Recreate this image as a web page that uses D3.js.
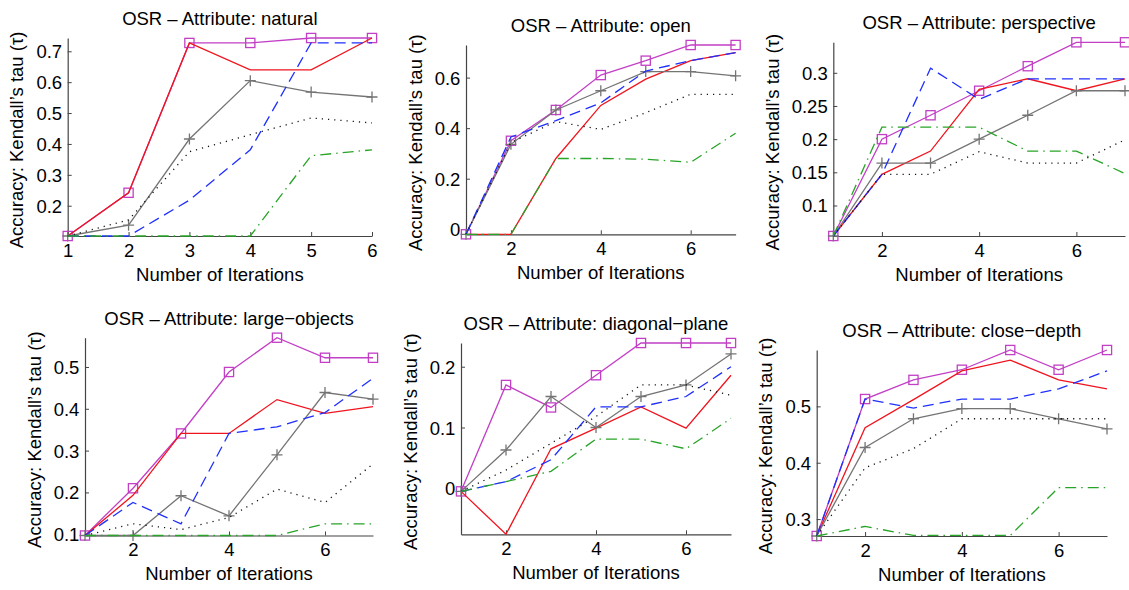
<!DOCTYPE html>
<html><head><meta charset="utf-8">
<script src="https://cdn.jsdelivr.net/npm/d3@7"></script>
<style>
html,body{margin:0;padding:0;background:#fff;}
svg text{font-family:"Liberation Sans",Arial,Helvetica,sans-serif;fill:#000;}
</style></head>
<body><svg id="c" width="1129" height="590"></svg>
<script>
// ---------- DATA ----------
const titles = ["OSR \u2013 Attribute: natural","OSR \u2013 Attribute: open","OSR \u2013 Attribute: perspective",
  "OSR \u2013 Attribute: large\u2212objects","OSR \u2013 Attribute: diagonal\u2212plane","OSR \u2013 Attribute: close\u2212depth"];
const xLabel = "Number of Iterations";
const yLabel = "Accuracy: Kendall\u2019s tau (\u03c4)";
const iters6 = [1,2,3,4,5,6];
const iters7 = [1,2,3,4,5,6,7];
const xTicks1 = [1,2,3,4,5,6];
const xTicksOther = [2,4,6];

// series per panel: magenta(squares), red, blue dashed, gray(+), black dotted, green dash-dot
const natural = {
  magenta:[0.102,0.242,0.727,0.727,0.743,0.743],
  red:    [0.102,0.242,0.727,0.640,0.640,0.743],
  blue:   [0.102,0.102,0.218,0.381,0.727,0.727],
  gray:   [0.102,0.137,0.416,0.605,0.568,0.552],
  dotted: [0.102,0.154,0.375,0.430,0.484,0.468],
  green:  [0.102,0.102,0.102,0.102,0.362,0.381]
};
const open = {
  magenta:[-0.02,0.350,0.472,0.610,0.667,0.729,0.729],
  red:    [-0.02,-0.02,0.280,0.490,0.594,0.667,0.699],
  blue:   [-0.02,0.365,0.430,0.500,0.626,0.667,0.699],
  gray:   [-0.02,0.336,0.472,0.548,0.624,0.624,0.607],
  dotted: [-0.02,0.343,0.426,0.395,0.461,0.534,0.534],
  green:  [-0.02,-0.02,0.280,0.280,0.277,0.265,0.380]
};
const perspective = {
  magenta:[0.054,0.200,0.236,0.273,0.310,0.346,0.346],
  red:    [0.054,0.147,0.182,0.275,0.291,0.273,0.291],
  blue:   [0.054,0.147,0.307,0.260,0.291,0.291,0.291],
  gray:   [0.054,0.164,0.164,0.200,0.236,0.273,0.273],
  dotted: [0.054,0.147,0.147,0.181,0.164,0.164,0.199],
  green:  [0.054,0.218,0.218,0.218,0.182,0.182,0.148]
};
const largeObjects = {
  magenta:[0.097,0.210,0.341,0.488,0.570,0.522,0.522],
  red:    [0.097,0.193,0.341,0.341,0.422,0.389,0.405],
  blue:   [0.097,0.176,0.125,0.341,0.357,0.391,0.473],
  gray:   [0.097,0.097,0.192,0.144,0.290,0.439,0.423],
  dotted: [0.097,0.125,0.111,0.140,0.208,0.176,0.268],
  green:  [0.097,0.097,0.097,0.097,0.097,0.125,0.125]
};
const diagonalPlane = {
  magenta:[-0.005,0.170,0.133,0.186,0.239,0.239,0.239],
  red:    [-0.005,-0.0756,0.065,0.099,0.134,0.099,0.186],
  blue:   [-0.005,0.011,0.047,0.134,0.134,0.151,0.200],
  gray:   [-0.005,0.063,0.151,0.100,0.151,0.170,0.221],
  dotted: [-0.005,0.030,0.074,0.118,0.170,0.170,0.153],
  green:  [-0.005,0.011,0.028,0.081,0.081,0.065,0.115]
};
const closeDepth = {
  magenta:[0.270,0.513,0.547,0.565,0.600,0.565,0.600],
  red:    [0.270,0.462,0.512,0.563,0.582,0.547,0.531],
  blue:   [0.270,0.513,0.497,0.513,0.513,0.531,0.563],
  gray:   [0.270,0.427,0.478,0.496,0.496,0.478,0.460],
  dotted: [0.270,0.391,0.425,0.478,0.478,0.478,0.478],
  green:  [0.270,0.287,0.271,0.271,0.271,0.356,0.356]
};
const yTicks = [
  [0.2,0.3,0.4,0.5,0.6,0.7],
  [0,0.2,0.4,0.6],
  [0.1,0.15,0.2,0.25,0.3],
  [0.1,0.2,0.3,0.4,0.5],
  [0,0.1,0.2],
  [0.3,0.4,0.5]
];

// ---------- LAYOUT / STYLE ----------
const panels = [
  {data:natural,       iters:iters6, xt:xTicks1,     rect:[67.7,372,38,236]},
  {data:open,          iters:iters7, xt:xTicksOther, rect:[466,735.6,45,234.3]},
  {data:perspective,   iters:iters7, xt:xTicksOther, rect:[833.3,1125,42.3,236]},
  {data:largeObjects,  iters:iters7, xt:xTicksOther, rect:[85,373,337.7,535.5]},
  {data:diagonalPlane, iters:iters7, xt:xTicksOther, rect:[461,731,343,534.3]},
  {data:closeDepth,    iters:iters7, xt:xTicksOther, rect:[816.7,1107,350,536]}
];
const styles = {
  magenta:{color:"#c23fc6", dash:null, marker:"square"},
  red:    {color:"#f0141e", dash:null, marker:null},
  gray:   {color:"#747474", dash:null, marker:"plus"},
  blue:   {color:"#1f2fff", dash:"11,6", marker:null},
  dotted: {color:"#111111", dash:"1.2,5", marker:null},
  green:  {color:"#28a428", dash:"11,5,1.5,5", marker:null}
};
const drawOrder = ["magenta","red","gray","blue","dotted","green"];
const FS = 18.5;

const svg = d3.select("#c");

panels.forEach((p,i)=>{
  const [L,R,T,B] = p.rect;
  const all = Object.values(p.data).flat();
  const x = d3.scaleLinear().domain(d3.extent(p.iters)).range([L,R]);
  const y = d3.scaleLinear().domain(d3.extent(all)).range([B,T]);
  const g = svg.append("g");

  // axes (ticks inward)
  const xa = g.append("g").attr("transform",`translate(0,${B})`)
    .call(d3.axisBottom(x).tickValues(p.xt).tickSizeInner(-4).tickSizeOuter(0).tickPadding(8).tickFormat(d3.format("d")));
  const ya = g.append("g").attr("transform",`translate(${L},0)`)
    .call(d3.axisLeft(y).tickValues(yTicks[i]).tickSizeInner(-4).tickSizeOuter(0).tickPadding(9).tickFormat(d=>String(+d.toFixed(3))));
  [xa,ya].forEach(a=>{
    a.select(".domain").attr("stroke","#444").attr("stroke-width",1.2);
    a.selectAll(".tick line").attr("stroke","#444").attr("stroke-width",1);
    a.selectAll("text").attr("font-size",FS).attr("fill","#000").style("font-family",'"Liberation Sans",Arial,sans-serif');
  });
  xa.selectAll(".tick text").attr("dy",null).attr("y",20.7);
  ya.selectAll(".tick text").attr("x",-5.6).attr("dy","0.35em");

  // series
  const line = d3.line().x((d,k)=>x(p.iters[k])).y(d=>y(d));
  drawOrder.forEach(key=>{
    const s = styles[key], vals = p.data[key];
    g.append("path").attr("d",line(vals)).attr("fill","none")
      .attr("stroke",s.color).attr("stroke-width",1.3)
      .attr("stroke-dasharray",s.dash);
    if(s.marker==="square"){
      g.selectAll(null).data(vals).enter().append("rect")
        .attr("x",(d,k)=>x(p.iters[k])-4.6).attr("y",d=>y(d)-4.6)
        .attr("width",9.2).attr("height",9.2)
        .attr("fill","none").attr("stroke",s.color).attr("stroke-width",1.3);
    } else if(s.marker==="plus"){
      g.selectAll(null).data(vals).enter().append("path")
        .attr("d",(d,k)=>{const cx=x(p.iters[k]),cy=y(d);return `M${cx-5.5},${cy}H${cx+5.5}M${cx},${cy-5.5}V${cy+5.5}`;})
        .attr("stroke",s.color).attr("stroke-width",1.3);
    }
  });

  // title & labels
  const cx = (L+R)/2;
  g.append("text").attr("x",cx).attr("y",T-13).attr("text-anchor","middle").attr("font-size",FS).text(titles[i]);
  g.append("text").attr("x",cx).attr("y",B+44.5).attr("text-anchor","middle").attr("font-size",FS).text(xLabel);
  let maxW = 0;
  ya.selectAll(".tick text").each(function(){maxW=Math.max(maxW,this.getComputedTextLength());});
  const lx = L-5.6-maxW-19.5, ly=(T+B)/2+3;
  g.append("text").attr("transform",`translate(${lx},${ly}) rotate(-90)`)
    .attr("text-anchor","middle").attr("dominant-baseline","central").attr("font-size",FS).text(yLabel);
});
</script></body></html>
